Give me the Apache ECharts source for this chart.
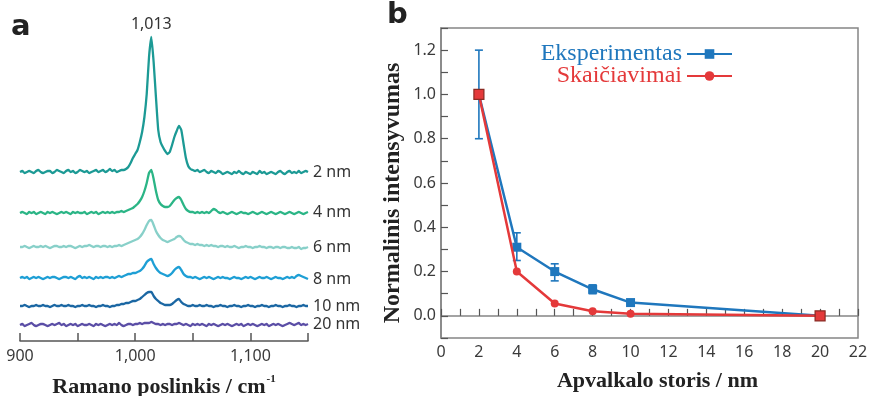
<!DOCTYPE html>
<html>
<head>
<meta charset="utf-8">
<script src="https://cdn.jsdelivr.net/npm/echarts@6/dist/echarts.min.js"></script>
<style>html,body{margin:0;padding:0;background:#fff;}#c{width:869px;height:396px;}</style>
</head>
<body>
<div id="c"></div>
<script>
// ---------- Panel a: Raman spectra ----------
const ramanX = [];
for (let i = 0; i <= 125; i++) ramanX.push(900 + 2 * i);
const spectrumNames = ['2 nm', '4 nm', '6 nm', '8 nm', '10 nm', '20 nm'];
const spectrumColors = ['#1c9a95', '#2bb586', '#88d0c9', '#1e9fd5', '#1b67a3', '#5b4ea6'];
const offsets = [169, 128, 94, 63, 35, 16];
const s2 = [0,1,-1,0,1,0,-1,1,2,0, -1,0,1,1,-1,0,2,1,0,-1, 1,2,0,1,-1,0,2,1,0,1, -1,0,1,2,0,1,2,0,1,3,
  1,2,0,1,2,2,3,5,9,14, 18,22,30,40,55,78,115,135,110,75, 42,30,25,21,18,20,27,35,41,46,
  42,28,14,6,3,2,1,2,0,1, 2,0,-1,1,0,-1,1,0,-2,-1, 0,-1,-2,0,-1,1,-1,-2,0,-1, -2,0,-1,-2,1,-1,0,-2,-1,0,
  -1,-2,0,1,-1,-2,0,1,-1,0, -1,1,-1,0,1,0];
const s4 = [0,1,0,-1,1,0,1,-1,0,1, 0,-1,1,0,1,0,-1,0,1,0, 1,0,-1,1,0,1,0,0,1,-1, 0,1,0,1,-1,0,1,0,1,0,
  1,0,1,1,2,1,2,3,4,5, 7,9,12,16,22,30,40,43,34,22, 13,9,7,6,6,7,10,13,15,16,
  13,8,4,2,1,1,0,1,0,1, 0,1,0,2,4,3,1,0,1,0, -1,0,1,0,-1,0,1,0,0,-1, 0,1,0,-1,0,1,0,-1,0,1,
  0,-1,0,1,0,-1,0,1,0,-1, 0,1,0,-1,0,1];
const s6 = [0,0,1,0,-1,0,1,0,0,1, 0,1,0,-1,0,1,1,0,0,1, 0,1,1,0,-1,0,1,0,1,1, 2,1,0,1,1,0,1,1,0,1,
  0,1,1,2,1,2,3,4,5,6, 7,8,10,13,17,22,26,27,22,16, 12,9,7,6,5,6,7,8,10,11,
  10,7,5,4,3,3,2,3,2,2, 1,2,1,2,1,1,0,1,1,0, 1,0,0,1,0,-1,0,0,1,0, 0,-1,0,0,1,0,0,-1,0,0,
  -1,0,0,-1,0,0,-1,-1,0,-1, -1,0,-2,-1,-1,0];
const s8 = [0,1,0,1,-1,0,1,0,1,0, -1,0,1,0,1,1,0,-1,0,1, 1,0,1,0,-1,1,2,0,1,0, 1,0,-1,1,0,1,0,1,1,0,
  1,0,1,2,1,2,3,4,4,5, 5,6,7,9,12,16,18,19,14,10, 7,5,4,3,2,3,5,8,10,11,
  8,4,2,1,1,0,1,0,-1,0, 1,0,1,0,-1,0,1,0,1,0, 0,-1,0,1,0,0,-1,0,1,0, 1,0,-1,0,1,0,0,1,0,-1,
  0,1,0,0,-1,0,1,0,1,0, 2,3,2,1,0,-1];
const s10 = [0,0,1,0,-1,0,0,1,0,0, 1,0,0,-1,0,1,0,0,1,0, 0,1,0,0,-1,0,0,1,0,0, 1,0,0,-1,0,0,1,0,0,-1,
  0,0,1,1,2,2,3,3,4,5, 5,6,7,9,11,13,14,14,10,7, 5,3,2,1,1,1,2,4,6,7,
  4,2,1,0,0,1,0,0,1,0, 0,1,0,0,-1,0,0,1,0,0, -1,0,0,1,0,0,-1,0,0,1, 0,0,-1,0,0,1,0,0,-1,0,
  0,1,0,0,-1,0,0,1,0,0, -1,0,0,1,0,0];
const s20 = [0,1,-1,0,1,2,0,-1,0,1, 1,0,-1,0,1,0,1,2,0,1, -1,0,1,0,1,-1,0,1,0,0, 1,0,-1,1,0,1,0,-1,0,1,
  0,1,0,2,0,-1,0,1,1,0, 1,1,2,1,2,2,2,3,2,1, 1,0,1,0,1,1,0,1,1,2,
  1,0,1,0,-1,1,0,1,0,1, 0,-1,1,0,1,0,-1,0,1,0, 1,0,-1,0,1,0,1,-1,0,1, 0,1,0,-1,0,1,0,1,-1,0,
  1,0,1,0,-1,0,1,2,1,0, 1,2,0,1,0,1];
const spectra = [s2, s4, s6, s8, s10, s20];
const ramanTicks = [900, 1000, 1100];
const peakLabel = '1,013';

// ---------- Panel b: normalized intensity ----------
const shellThickness = [2, 4, 6, 8, 10, 20];
const experiment = [1.0, 0.31, 0.2, 0.12, 0.06, 0.0];
const errLow = [0.8, 0.25, 0.158, 0.10, 0.055];
const errHigh = [1.2, 0.375, 0.235, 0.14, 0.065];
const calculation = [1.0, 0.2, 0.056, 0.021, 0.01, 0.0];

const blue = '#1f77bd';
const red = '#e4393a';
const sans = 'Noto Sans';
const serif = 'Liberation Serif';

const spectrumSeries = spectra.map((vals, k) => ({
  type: 'line',
  name: spectrumNames[k],
  xAxisIndex: 0, yAxisIndex: 0,
  data: ramanX.map((x, i) => [x, offsets[k] + vals[i]]),
  showSymbol: false, symbol: 'none',
  lineStyle: { color: spectrumColors[k], width: 2.3 },
  itemStyle: { color: spectrumColors[k] },
  smooth: 0.15,
  silent: true,
  endLabel: { show: true, formatter: spectrumNames[k], color: '#333', fontFamily: sans, fontSize: 16, distance: 5 },
  markPoint: k === 0 ? {
    symbol: 'circle', symbolSize: 0,
    data: [{ type: 'max' }],
    label: { show: true, position: 'top', distance: 5, formatter: peakLabel, color: '#333', fontFamily: sans, fontSize: 16 }
  } : undefined
}));

const errData = errLow.map((lo, i) => [shellThickness[i], lo, errHigh[i]]);

const chart = echarts.init(document.getElementById('c'), null, { renderer: 'canvas' });
chart.setOption({
  animation: false,
  backgroundColor: '#fff',
  grid: [
    { left: 20, width: 288, top: 10, height: 331, outerBoundsMode: 'none', containLabel: false },
    { left: 441, width: 417, top: 28, height: 310, show: true, borderColor: '#858585', borderWidth: 1.5, outerBoundsMode: 'none', containLabel: false }
  ],
  xAxis: [
    {
      gridIndex: 0, type: 'value', min: 900, max: 1150, interval: 50,
      name: '{a|Ramano poslinkis / cm}{s|-1}', nameLocation: 'middle', nameGap: 33,
      nameTextStyle: { rich: {
        a: { fontFamily: serif, fontWeight: 'bold', fontSize: 22, color: '#222', lineHeight: 26 },
        s: { fontFamily: serif, fontWeight: 'bold', fontSize: 11, color: '#222', verticalAlign: 'top', lineHeight: 26, padding: [0, 0, 10, 1] }
      } },
      axisLine: { lineStyle: { color: '#555', width: 1.5 } },
      axisTick: { inside: true, length: 8, lineStyle: { color: '#555', width: 1.5 } },
      axisLabel: { margin: 7, color: '#3a3a3a', fontFamily: sans, fontSize: 16,
        formatter: v => ramanTicks.indexOf(v) >= 0 ? v.toLocaleString('en-US') : '' },
      splitLine: { show: false }
    },
    {
      gridIndex: 1, type: 'value', min: 0, max: 22, interval: 1,
      name: 'Apvalkalo storis / nm', nameLocation: 'middle', nameGap: 32,
      nameTextStyle: { fontFamily: serif, fontWeight: 'bold', fontSize: 22, color: '#222', padding: [0, 0, 0, 16] },
      axisLine: { lineStyle: { color: '#858585', width: 1.5 } },
      axisTick: { inside: true, length: 7, lineStyle: { color: '#555', width: 1.2 } },
      axisLabel: { margin: 6, color: '#3a3a3a', fontFamily: sans, fontSize: 16,
        formatter: v => (Math.round(v) % 2 === 0 ? String(Math.round(v)) : '') },
      splitLine: { show: false }
    }
  ],
  yAxis: [
    { gridIndex: 0, type: 'value', min: 0, max: 331, show: false, splitLine: { show: false } },
    {
      gridIndex: 1, type: 'value', min: -0.1, max: 1.3, interval: 0.1,
      name: 'Normalinis intensyvumas', nameLocation: 'middle', nameGap: 36, nameRotate: 90,
      nameTextStyle: { fontFamily: serif, fontWeight: 'bold', fontSize: 24, color: '#222', padding: [0, 20, 0, 0] },
      axisLine: { lineStyle: { color: '#858585', width: 1.5 } },
      axisTick: { inside: true, length: 7, lineStyle: { color: '#555', width: 1.2 } },
      axisLabel: { margin: 5, color: '#3a3a3a', fontFamily: sans, fontSize: 16,
        formatter: v => { const t = Math.round(v * 10); return (t % 2 === 0 && t >= 0 && t <= 12) ? (t / 10).toFixed(1) : ''; } },
      splitLine: { show: false }
    }
  ],
  legend: [
    { data: [{ name: 'Eksperimentas' }], right: 136, top: 42, orient: 'vertical', align: 'right', padding: 0,
      itemWidth: 45, itemHeight: 12, textStyle: { color: blue, fontFamily: serif, fontSize: 24 } },
    { data: [{ name: 'Skaičiavimai' }], right: 136, top: 64, orient: 'vertical', align: 'right', padding: 0,
      itemWidth: 45, itemHeight: 12, textStyle: { color: red, fontFamily: serif, fontSize: 24 } }
  ],
  graphic: [
    { type: 'text', left: 11, top: 13, style: { text: 'a', font: 'bold 29px "DejaVu Sans"', fill: '#222' } },
    { type: 'text', left: 387, top: 1, style: { text: 'b', font: 'bold 29px "DejaVu Sans"', fill: '#222' } }
  ],
  series: spectrumSeries.concat([
    {
      type: 'custom', name: 'errEksperimentas', xAxisIndex: 1, yAxisIndex: 1, z: 3,
      data: errData, silent: true,
      renderItem: (params, api) => {
        const x = api.value(0), lo = api.value(1), hi = api.value(2);
        const p1 = api.coord([x, lo]), p2 = api.coord([x, hi]);
        const w = 4;
        const st = { stroke: blue, lineWidth: 1.6 };
        return { type: 'group', children: [
          { type: 'line', shape: { x1: p1[0], y1: p1[1], x2: p2[0], y2: p2[1] }, style: st },
          { type: 'line', shape: { x1: p1[0] - w, y1: p1[1], x2: p1[0] + w, y2: p1[1] }, style: st },
          { type: 'line', shape: { x1: p2[0] - w, y1: p2[1], x2: p2[0] + w, y2: p2[1] }, style: st }
        ] };
      }
    },
    {
      type: 'line', name: 'Eksperimentas', xAxisIndex: 1, yAxisIndex: 1, z: 4,
      data: shellThickness.map((x, i) => [x, experiment[i]]),
      symbol: 'rect', symbolSize: 9, showAllSymbol: true,
      lineStyle: { color: blue, width: 2.5 }, itemStyle: { color: blue }
    },
    {
      type: 'line', name: 'Skaičiavimai', xAxisIndex: 1, yAxisIndex: 1, z: 5,
      data: shellThickness.map((x, i) => {
        const d = { value: [x, calculation[i]] };
        if (i === 0 || i === shellThickness.length - 1) {
          d.symbol = 'rect'; d.symbolSize = 10;
          d.itemStyle = { color: red, borderColor: '#8a2a22', borderWidth: 1.2 };
        }
        return d;
      }),
      symbol: 'circle', symbolSize: 8, showAllSymbol: true,
      lineStyle: { color: red, width: 2.5 }, itemStyle: { color: red }
    }
  ])
});
</script>
</body>
</html>
